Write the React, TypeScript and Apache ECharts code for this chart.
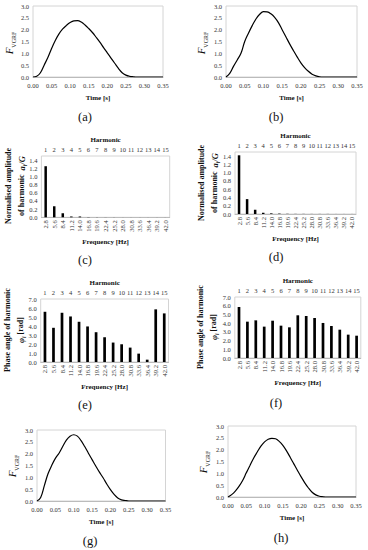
import React, { useEffect, useRef } from "react";
import * as echarts from "echarts";

const TIME = [0, 0.01, 0.02, 0.03, 0.04, 0.05, 0.06, 0.07, 0.08, 0.09, 0.1, 0.11, 0.12, 0.13, 0.14, 0.15, 0.16, 0.17, 0.18, 0.19, 0.2, 0.21, 0.22, 0.23, 0.24, 0.25, 0.26, 0.27, 0.28, 0.29, 0.3, 0.31, 0.32, 0.33, 0.34, 0.35];
const FA = [0, 0.03, 0.18, 0.5, 0.82, 1.2, 1.54, 1.82, 2.03, 2.18, 2.3, 2.37, 2.38, 2.32, 2.2, 2.05, 1.88, 1.68, 1.47, 1.24, 1.02, 0.8, 0.58, 0.36, 0.18, 0.08, 0.03, 0.01, 0, 0, 0, 0, 0, 0, 0, 0];
const FB = [0, 0.15, 0.45, 0.72, 1.0, 1.5, 1.85, 2.17, 2.45, 2.65, 2.76, 2.75, 2.67, 2.52, 2.3, 2.0, 1.7, 1.4, 1.12, 0.85, 0.6, 0.4, 0.24, 0.12, 0.05, 0.01, 0, 0, 0, 0, 0, 0, 0, 0, 0, 0];
const FG = [0, 0.15, 0.65, 1.15, 1.5, 1.8, 2.02, 2.3, 2.57, 2.74, 2.8, 2.74, 2.55, 2.3, 2.02, 1.75, 1.48, 1.22, 0.98, 0.72, 0.48, 0.28, 0.13, 0.05, 0.02, 0, 0, 0, 0, 0, 0, 0, 0, 0, 0, 0];
const FH = [0, 0.1, 0.25, 0.45, 0.7, 1.02, 1.33, 1.64, 1.9, 2.15, 2.33, 2.44, 2.48, 2.46, 2.35, 2.18, 1.95, 1.68, 1.4, 1.12, 0.85, 0.6, 0.38, 0.2, 0.09, 0.03, 0.01, 0, 0, 0, 0, 0, 0, 0, 0, 0];

const HARMONICS = ["1", "2", "3", "4", "5", "6", "7", "8", "9", "10", "11", "12", "13", "14", "15"];
const FREQ = ["2.8", "5.6", "8.4", "11.2", "14.0", "16.8", "19.6", "22.4", "25.2", "28.0", "30.8", "33.6", "36.4", "39.2", "42.0"];
const AMP_C = [1.25, 0.27, 0.1, 0.02, 0.02, 0.005, 0.003, 0.002, 0.002, 0.001, 0.001, 0.001, 0.001, 0.001, 0.001];
const AMP_D = [1.42, 0.36, 0.1, 0.03, 0.015, 0.01, 0.005, 0.003, 0.003, 0.002, 0.002, 0.002, 0.001, 0.001, 0.001];
const PH_E = [5.58, 3.8, 5.47, 5.06, 4.47, 3.95, 3.31, 2.75, 2.16, 1.97, 1.6, 0.93, 0.26, 5.85, 5.4];
const PH_F = [5.85, 4.17, 4.32, 3.6, 4.28, 3.71, 3.52, 4.9, 4.82, 4.59, 4.02, 3.67, 3.25, 2.68, 2.56];

const SERIF = "'Liberation Serif', 'DejaVu Serif', serif";
const TICK = { fontFamily: SERIF, fontSize: 6.5, color: "#333" };
const NAME = { fontFamily: SERIF, fontSize: 7, fontWeight: "bold", color: "#111" };
const BOX = "#d4d4d4";

type G = { left: number; top: number; width: number; height: number };

export default function App() {
  const ref = useRef<HTMLDivElement>(null);
  useEffect(() => {
    if (!ref.current) return;
    const chart = echarts.init(ref.current, undefined, { renderer: "svg" });

    const grids: any[] = [];
    const xAxes: any[] = [];
    const yAxes: any[] = [];
    const series: any[] = [];

    const addLine = (g: G, vals: number[]) => {
      const gi = grids.length;
      grids.push({ ...g, show: true, borderColor: BOX, borderWidth: 1 });
      xAxes.push({
        type: "value", gridIndex: gi, min: 0, max: 0.35, interval: 0.05,
        axisLine: { show: true, onZero: false, lineStyle: { color: "#bbb" } },
        axisTick: { show: false }, splitLine: { show: false },
        axisLabel: { ...TICK, margin: 5, formatter: (v: number) => v.toFixed(2) },
        name: "Time [s]", nameLocation: "middle", nameGap: 17, nameTextStyle: NAME,
      });
      yAxes.push({
        type: "value", gridIndex: gi, min: 0, max: 3, interval: 0.5,
        axisLine: { show: false }, axisTick: { show: false }, splitLine: { show: false },
        axisLabel: { ...TICK, margin: 4, formatter: (v: number) => v.toFixed(1) },
      });
      series.push({
        type: "line", xAxisIndex: xAxes.length - 1, yAxisIndex: yAxes.length - 1,
        data: TIME.map((t, i) => [t, vals[i]]), smooth: 0.4, symbol: "none",
        lineStyle: { color: "#000", width: 1.2 },
      });
    };

    const addBar = (g: G, vals: number[], max: number, interval: number, dec: number, bw: number) => {
      const gi = grids.length;
      grids.push({ ...g, show: true, borderColor: BOX, borderWidth: 1 });
      xAxes.push({
        type: "category", gridIndex: gi, data: FREQ, position: "bottom",
        axisLine: { show: true, lineStyle: { color: "#bbb" } }, axisTick: { show: false },
        axisLabel: { ...TICK, rotate: 90, margin: 3, interval: 0 },
        name: "Frequency [Hz]", nameLocation: "middle", nameGap: 21, nameTextStyle: NAME,
      });
      const bottomIdx = xAxes.length - 1;
      xAxes.push({
        type: "category", gridIndex: gi, data: HARMONICS, position: "top",
        axisLine: { show: false, lineStyle: { color: "#111" } }, axisTick: { show: false },
        axisLabel: { ...TICK, margin: 3, interval: 0 },
        name: "Harmonic", nameLocation: "middle", nameGap: 13, nameTextStyle: NAME,
      });
      yAxes.push({
        type: "value", gridIndex: gi, min: 0, max, interval,
        axisLine: { show: false }, axisTick: { show: false }, splitLine: { show: false },
        axisLabel: { ...TICK, margin: 4, showMaxLabel: max === 7, formatter: (v: number) => v.toFixed(dec) },
      });
      series.push({
        type: "bar", xAxisIndex: bottomIdx, yAxisIndex: yAxes.length - 1,
        data: vals, barWidth: bw, itemStyle: { color: "#000" },
      });
    };

    addLine({ left: 33, top: 6, width: 130, height: 71 }, FA);
    addLine({ left: 226, top: 6, width: 131, height: 71 }, FB);
    addBar({ left: 41.4, top: 156, width: 128.3, height: 61.3 }, AMP_C, 1.5, 0.2, 1, 2.5);
    addBar({ left: 235, top: 152, width: 121, height: 62 }, AMP_D, 1.5, 0.2, 1, 2.5);
    addBar({ left: 40.7, top: 299, width: 127.8, height: 63 }, PH_E, 7, 1, 1, 2.7);
    addBar({ left: 234.8, top: 297, width: 126, height: 61 }, PH_F, 7, 1, 1, 2.7);
    addLine({ left: 37, top: 430, width: 128.5, height: 71 }, FG);
    addLine({ left: 228, top: 426, width: 128, height: 71 }, FH);

    const rot = Math.PI / 2;
    const fLabel = (x: number, y: number) => ({
      type: "text", x, y, rotation: rot,
      style: {
        text: "{f|F}{s|VGRF}", align: "center", verticalAlign: "middle", fill: "#111",
        rich: {
          f: { fontFamily: SERIF, fontSize: 11, fontStyle: "italic", verticalAlign: "bottom" },
          s: { fontFamily: SERIF, fontSize: 6, verticalAlign: "bottom", padding: [0, 0, -2, 0] },
        },
      },
    });
    const ampLabel = (x: number, y: number) => ({
      type: "text", x, y, rotation: rot,
      style: {
        text: "{b|Normalised amplitude}\n{b|of harmonic  }{i|a}{s|i}{i|/G}", align: "center", verticalAlign: "middle", fill: "#111",
        lineHeight: 13,
        rich: {
          b: { fontFamily: SERIF, fontSize: 8, fontWeight: "bold", lineHeight: 13 },
          i: { fontFamily: SERIF, fontSize: 8.5, fontWeight: "bold", fontStyle: "italic", lineHeight: 13 },
          s: { fontFamily: SERIF, fontSize: 5.5, fontWeight: "bold", fontStyle: "italic", verticalAlign: "bottom", lineHeight: 13 },
        },
      },
    });
    const phLabel = (x: number, y: number) => ({
      type: "text", x, y, rotation: rot,
      style: {
        text: "{b|Phase angle of harmonic}\n{i|φ}{s|i}{b| [rad]}", align: "center", verticalAlign: "middle", fill: "#111",
        lineHeight: 13,
        rich: {
          b: { fontFamily: SERIF, fontSize: 8, fontWeight: "bold", lineHeight: 13 },
          i: { fontFamily: SERIF, fontSize: 8.5, fontWeight: "bold", fontStyle: "italic", lineHeight: 13 },
          s: { fontFamily: SERIF, fontSize: 5.5, fontWeight: "bold", fontStyle: "italic", verticalAlign: "bottom", lineHeight: 13 },
        },
      },
    });
    const panel = (t: string, x: number, y: number) => ({
      type: "text", x, y,
      style: { text: t, fontFamily: SERIF, fontSize: 12.5, fill: "#111", align: "center", verticalAlign: "middle" },
    });

    chart.setOption({
      animation: false,
      grid: grids,
      xAxis: xAxes,
      yAxis: yAxes,
      series,
      graphic: [
        fLabel(9, 43), fLabel(201, 43), fLabel(12, 466), fLabel(203, 462),
        ampLabel(15, 186), ampLabel(208, 183),
        phLabel(14, 330), phLabel(207, 327),
        panel("(a)", 85, 117), panel("(b)", 276, 117),
        panel("(c)", 85, 260), panel("(d)", 276, 257),
        panel("(e)", 85, 405), panel("(f)", 276, 403),
        panel("(g)", 90, 541), panel("(h)", 281, 538),
      ],
    });
    return () => chart.dispose();
  }, []);
  return <div ref={ref} style={{ position: "fixed", left: 0, top: 0, width: 368, height: 550, background: "#fff" }} />;
}
